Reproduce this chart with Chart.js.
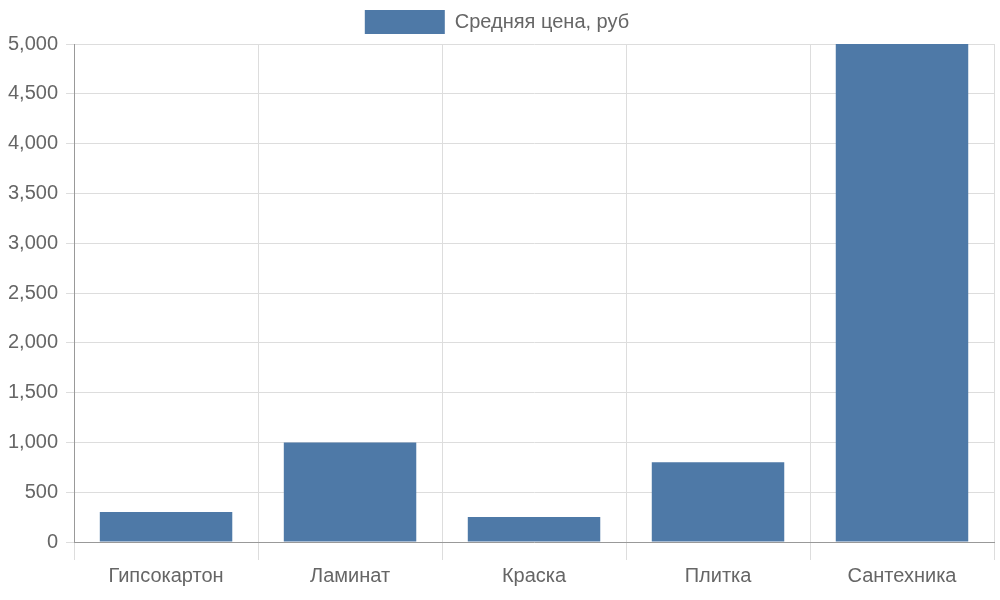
<!DOCTYPE html>
<html><head><meta charset="utf-8">
<script src="https://cdn.jsdelivr.net/npm/chart.js@4/dist/chart.umd.min.js"></script>
<style>html,body{margin:0;padding:0;background:#fff}#w{width:1000px;height:600px}</style>
</head><body><div id="w"><canvas id="c"></canvas></div>
<script>
const categories = ["Гипсокартон","Ламинат","Краска","Плитка","Сантехника"];
const seriesName = "Средняя цена, руб";
const values = [300, 1000, 250, 800, 5000];
Chart.defaults.font.family = "'Liberation Sans', Arial, sans-serif";
Chart.defaults.font.size = 20;
Chart.defaults.color = "#666";
new Chart(document.getElementById('c'), {
  type: 'bar',
  data: { labels: categories, datasets: [{ label: seriesName, data: values, backgroundColor: '#4e79a7', borderWidth: 0 }] },
  options: {
    responsive: true, maintainAspectRatio: false, animation: false,
    layout: { padding: { right: 6, bottom: 8 } },
    plugins: { legend: { labels: { boxWidth: 80, boxHeight: 24, font: { size: 20 } } }, tooltip: { enabled: false } },
    scales: {
      x: { grid: { color: '#ddd', tickLength: 18 }, border: { color: '#999' }, ticks: { padding: 4 } },
      y: { min: 0, max: 5000, ticks: { stepSize: 500, padding: 8 }, grid: { color: '#ddd' }, border: { color: '#999' } }
    }
  }
});
</script></body></html>
